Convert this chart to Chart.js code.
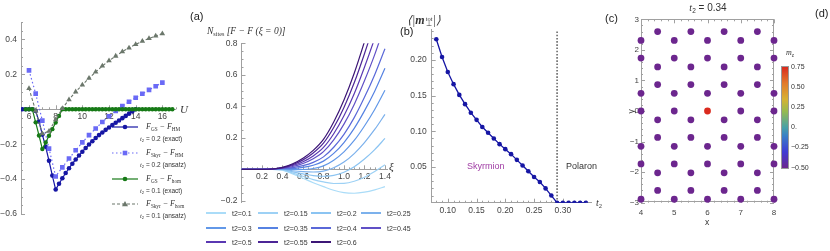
<!DOCTYPE html>
<html>
<head>
<meta charset="utf-8">
<title>Skyrmion / polaron panels</title>
<script src="https://cdn.jsdelivr.net/npm/chart.js@4.4.1/dist/chart.umd.min.js"></script>
<style>
  body { margin: 0; background: #fff; }
  #fig { position: relative; width: 830px; height: 251px; overflow: hidden; font-family: "Liberation Sans", Arial, sans-serif; color: #333; }
  #fig canvas { position: absolute; top: 0; }
  .t { position: absolute; white-space: nowrap; line-height: 1; }
  .m { font-family: "Liberation Serif", "Times New Roman", serif; font-style: italic; }
  .t sub { font-size: 0.65em; position: relative; top: 0.3em; vertical-align: baseline; line-height: 0; font-style: normal; }
  .lab { font-size: 11px; color: #222; }
</style>
</head>
<body>
<div id="fig">
  <canvas id="c1" width="200" height="251" style="left:0"></canvas>
  <canvas id="c2" width="200" height="251" style="left:200px"></canvas>
  <canvas id="c3" width="210" height="251" style="left:400px"></canvas>
  <canvas id="c4" width="220" height="251" style="left:610px"></canvas>

  <div class="t m" style="left:180px;top:104px;font-size:11px">U</div>
  <div id="leg1"></div>

  <div class="t lab" style="left:190px;top:11px">(a)</div>
  <div class="t m" style="left:207px;top:27px;font-size:9.5px">N<sub>sites</sub> [F − F (ξ = 0)]</div>
  <div class="t m" style="left:389px;top:161px;font-size:11px">ξ</div>
  <div id="leg2"></div>

  <div class="t lab" style="left:400px;top:26px">(b)</div>
  <div class="t m" style="left:407px;top:14px;font-size:12px">⟨|<b>m</b><span style="display:inline-block;vertical-align:middle;line-height:0.85;font-size:6.5px;font-style:normal;margin-left:1px"><span style="display:block">tot</span><span style="display:block">⊥</span></span>|⟩</div>
  <div class="t" style="left:467px;top:162px;font-size:9px;color:#a03ca4">Skyrmion</div>
  <div class="t" style="left:566px;top:162px;font-size:9px;color:#333">Polaron</div>
  <div class="t m" style="left:596px;top:198px;font-size:10px">t<sub>2</sub></div>

  <div class="t lab" style="left:605px;top:13px">(c)</div>
  <div class="t" style="left:668px;width:80px;text-align:center;top:3px;font-size:10px"><span class="m">t</span><sub>2</sub> = 0.34</div>
  <div class="t lab" style="left:815px;top:8px">(d)</div>
  <div class="t" style="left:705px;top:218px;font-size:8.5px">x</div>
  <div class="t" style="left:629px;top:107px;font-size:8.5px;transform:rotate(-90deg)">y</div>
  <div class="t m" style="left:786px;top:49px;font-size:8px">m<sub>z</sub></div>
  <div id="cbar" style="position:absolute;left:781px;top:66px;width:6px;height:101px;border:0.5px solid #999"></div>
  <div id="cbticks"></div>
</div>

<script>
// ---------- panel 1: free energy differences vs U ----------
const uFine = [5.5, 5.75, 6, 6.25, 6.5, 6.75, 7, 7.25, 7.5, 7.75, 8, 8.25, 8.5, 8.75, 9, 9.25, 9.5, 9.75, 10, 10.25, 10.5, 10.75, 11, 11.25, 11.5, 11.75, 12, 12.25, 12.5, 12.75, 13, 13.25, 13.5, 13.75, 14, 14.25, 14.5, 14.75, 15, 15.25, 15.5, 15.75, 16, 16.25, 16.5, 16.75];
const gsMinusHM = [0, 0, 0, 0, -0.01, -0.07, -0.145, -0.215, -0.295, -0.38, -0.46, -0.427, -0.395, -0.365, -0.338, -0.312, -0.288, -0.265, -0.243, -0.222, -0.202, -0.183, -0.165, -0.148, -0.133, -0.118, -0.104, -0.09, -0.077, -0.064, -0.051, -0.038, -0.025, -0.012, 0, null, null, null, null, null, null, null, null, null, null, null];
const gsMinusHom = [null, 0, 0, 0, -0.075, -0.15, -0.228, -0.19, -0.152, -0.114, -0.076, -0.038, 0, 0, 0, 0, 0, 0, 0, 0, 0, 0, 0, 0, 0, 0, 0, 0, 0, 0, 0, 0, 0, 0, 0, 0, 0, 0, 0, 0, 0, 0, 0, 0, 0, 0];
const uCoarse = [6, 6.5, 7, 7.5, 8, 8.5, 9, 9.5, 10, 10.5, 11, 11.5, 12, 12.5, 13, 13.5, 14, 14.5, 15, 15.5, 16];
const skyrMinusHM = [0.223, 0.09, -0.065, -0.225, -0.385, -0.333, -0.282, -0.235, -0.19, -0.148, -0.11, -0.073, -0.04, -0.01, 0.018, 0.043, 0.066, 0.089, 0.111, 0.132, 0.153];
const skyrMinusHom = [0.12, -0.01, -0.14, -0.125, -0.06, 0.005, 0.055, 0.1, 0.14, 0.178, 0.214, 0.248, 0.278, 0.305, 0.33, 0.352, 0.372, 0.39, 0.406, 0.42, 0.433];
const uTicks = [6, 8, 10, 12, 14, 16];
const dfTicks = [0.4, 0.2, -0.2, -0.4, -0.6];

// ---------- panel (a): energy vs xi for several t2 ----------
const xiGrid = [0, 0.1, 0.2, 0.3, 0.4, 0.5, 0.6, 0.7, 0.8, 0.9, 1.0, 1.1, 1.2, 1.3, 1.4];
const t2Values = [0.1, 0.15, 0.2, 0.25, 0.3, 0.35, 0.4, 0.45, 0.5, 0.55, 0.6];
const e010 = [0, 0, 0, 0, -0.005, -0.03, -0.057, -0.085, -0.11, -0.133, -0.148, -0.152, -0.145, -0.13, -0.11];
const e015 = [0, 0, 0, 0, -0.003, -0.024, -0.044, -0.065, -0.08, -0.09, -0.089, -0.076, -0.05, -0.014, 0.029];
const e020 = [0, 0, 0, 0, -0.001, -0.016, -0.029, -0.04, -0.044, -0.038, -0.019, 0.016, 0.065, 0.125, 0.196];
const e025 = [0, 0, 0, 0, 0.001, -0.009, -0.015, -0.017, -0.011, 0.01, 0.046, 0.1, 0.17, 0.253, 0.349];
const e030 = [0, 0, 0, 0.001, 0.003, -0.001, -0.001, 0.005, 0.022, 0.058, 0.111, 0.183, 0.275, 0.38, 0.502];
const e035 = [0, 0, 0, 0.001, 0.004, 0.005, 0.012, 0.026, 0.052, 0.101, 0.17, 0.26, 0.371, 0.496, 0.641];
const e040 = [0, 0, 0, 0.001, 0.006, 0.011, 0.023, 0.044, 0.079, 0.14, 0.222, 0.328, 0.457, 0.601, 0.766];
const e045 = [0, 0, 0, 0.001, 0.008, 0.018, 0.037, 0.067, 0.112, 0.187, 0.287, 0.412, 0.562, 0.728, 0.919];
const e050 = [0, 0, 0, 0.002, 0.009, 0.024, 0.048, 0.085, 0.139, 0.226, 0.34, 0.48, 0.648, 0.833, 1.044];
const e055 = [0, 0, 0, 0.002, 0.011, 0.03, 0.06, 0.104, 0.166, 0.265, 0.393, 0.549, 0.734, 0.937, 1.169];
const e060 = [0, 0, 0, 0.002, 0.012, 0.035, 0.07, 0.12, 0.19, 0.3, 0.44, 0.61, 0.81, 1.03, 1.28];
const xiTicks = [0.2, 0.4, 0.6, 0.8, 1.0, 1.2, 1.4];
const eTicks = [0.8, 0.6, 0.4, 0.2, -0.2];

// ---------- panel (b): transverse magnetisation vs t2 ----------
const t2Grid = [0.08, 0.09, 0.10, 0.11, 0.12, 0.13, 0.14, 0.15, 0.16, 0.17, 0.18, 0.19, 0.20, 0.21, 0.22, 0.23, 0.24, 0.25, 0.26, 0.27, 0.28, 0.29, 0.30, 0.31, 0.32, 0.33, 0.34];
const mPerp = [0.229, 0.204, 0.183, 0.166, 0.151, 0.138, 0.126, 0.116, 0.106, 0.098, 0.09, 0.082, 0.075, 0.068, 0.06, 0.052, 0.044, 0.036, 0.029, 0.02, 0.01, 0, 0, 0, 0, 0, 0];
const t2Critical = 0.29;
const t2Ticks = [0.10, 0.15, 0.20, 0.25, 0.30];
const mTicks = [0.05, 0.10, 0.15, 0.20];

// ---------- panel (d): lattice sites coloured by m_z ----------
const siteXInt = [4, 5, 6, 7, 8];
const siteXHalf = [4.5, 5.5, 6.5, 7.5];
const rowYInt = [2.309, 1.732, 0.577, 0, -1.155, -1.732, -2.887];
const rowYHalf = [2.598, 1.443, 0.866, -0.289, -0.866, -2.021, -2.598];
const mzInt = [
  [-0.5, -0.5, -0.5, -0.5, -0.5],
  [-0.5, -0.5, -0.5, -0.5, -0.5],
  [-0.5, -0.5, -0.5, -0.5, -0.5],
  [-0.5, -0.5, 0.75, -0.5, -0.5],
  [-0.5, -0.5, -0.5, -0.5, -0.5],
  [-0.5, -0.5, -0.5, -0.5, -0.5],
  [-0.5, -0.5, -0.5, -0.5, -0.5]
];
const mzHalf = [
  [-0.5, -0.5, -0.5, -0.5],
  [-0.5, -0.5, -0.5, -0.5],
  [-0.5, -0.5, -0.5, -0.5],
  [-0.5, -0.5, -0.5, -0.5],
  [-0.5, -0.5, -0.5, -0.5],
  [-0.5, -0.5, -0.5, -0.5],
  [-0.5, -0.5, -0.5, -0.5]
];
const latXTicks = [4, 5, 6, 7, 8];
const latYTicks = [3, 2, 1, 0, -1, -2, -3];
const cbTicks = [0.75, 0.5, 0.25, 0, -0.25, -0.5];
const cbLabels = ['0.75', '0.50', '0.25', '0.', '\u22120.25', '\u22120.50'];

// ---------- styles ----------
const DARK = '#1616a4', LIGHT = '#6a6af6', GREEN = '#167a16', GRAY = '#6b776b';
const AXIS = '#a0a0a0';
const t2Colors = ['#aadcf8', '#9dd1f5', '#8bc4f2', '#7cb1ec', '#6298e8', '#5682e2', '#5a68d8', '#6050c6', '#5a38b2', '#4c2596', '#3c1676'];
const mzStops = [[-0.5, [108, 38, 142]], [-0.3, [64, 60, 212]], [-0.1, [58, 128, 198]], [0, [72, 160, 168]], [0.2, [150, 186, 80]], [0.35, [214, 178, 52]], [0.55, [226, 122, 42]], [0.75, [218, 42, 30]]];

function mzColor(v) {
  for (let i = 1; i < mzStops.length; i++) {
    if (v <= mzStops[i][0] || i == mzStops.length - 1) {
      const [a, ca] = mzStops[i - 1], [b, cb] = mzStops[i];
      const f = Math.max(0, Math.min(1, (v - a) / (b - a)));
      return 'rgb(' + ca.map((c, k) => Math.round(c + f * (cb[k] - c))).join(',') + ')';
    }
  }
}

Chart.defaults.font.family = '"Liberation Sans", Arial, sans-serif';
Chart.defaults.font.size = 8.5;
Chart.defaults.color = '#444';
Chart.defaults.animation = false;
Chart.defaults.responsive = false;
Chart.defaults.devicePixelRatio = 1;
Chart.defaults.plugins.legend.display = false;
Chart.defaults.plugins.tooltip.enabled = false;

// Mathematica-like inward tick marks (major + minor)
const mmaTicks = {
  id: 'mmaTicks',
  beforeDatasetsDraw(chart, args, o) {
    const ctx = chart.ctx, a = chart.chartArea;
    ctx.save();
    ctx.strokeStyle = AXIS;
    ctx.lineWidth = 1;
    if (o.frame) ctx.strokeRect(Math.round(a.left) + 0.5, Math.round(a.top) + 0.5, Math.round(a.right - a.left) - 1, Math.round(a.bottom - a.top) - 1);
    (o.marks || []).forEach(m => {
      const s = chart.scales[m.axis];
      const other = chart.scales[m.axis === 'x' ? 'y' : 'x'];
      const n = Math.round((m.to - m.from) / m.minor);
      for (let i = 0; i <= n; i++) {
        const v = m.from + i * m.minor;
        const major = Math.abs(v / m.major - Math.round(v / m.major)) < 1e-6;
        const len = major ? 4 : 2;
        const p = Math.round(s.getPixelForValue(v)) + 0.5;
        m.at.forEach(([where, dir]) => {
          let base;
          if (typeof where === 'number') base = other.getPixelForValue(where);
          else if (m.axis === 'x') base = where === 'start' ? a.bottom : a.top;
          else base = where === 'start' ? a.left : a.right;
          ctx.beginPath();
          if (m.axis === 'x') { ctx.moveTo(p, base); ctx.lineTo(p, base + dir * len); }
          else { ctx.moveTo(base, p); ctx.lineTo(base + dir * len, p); }
          ctx.stroke();
        });
      }
    });
    ctx.restore();
  }
};

function fix(w, h) {
  return s => {
    if (w !== undefined) s.width = w;
    if (h !== undefined) s.height = h;
    s.paddingTop = s.paddingBottom = s.paddingLeft = s.paddingRight = 0;
  };
}
function only(vals) { return s => { s.ticks = vals.map(v => ({ value: v })); }; }
function fmt(d) { return v => Number(v).toFixed(d).replace('-', '\u2212'); }
function scale(extra, tickOpts, showBorder) {
  return Object.assign({
    type: 'linear',
    grid: { drawOnChartArea: false, drawTicks: false },
    border: { display: showBorder !== false, color: AXIS, width: 1 },
    ticks: Object.assign({ autoSkip: false, maxRotation: 0, color: '#444' }, tickOpts)
  }, extra);
}
function pts(xs, ys) { return xs.map((x, i) => ({ x: x, y: ys[i] })); }

// ---------- panel 1 ----------
new Chart(document.getElementById('c1'), {
  type: 'line',
  data: {
    datasets: [
      { data: pts(uFine, gsMinusHM), borderColor: DARK, backgroundColor: DARK, borderWidth: 1.2, pointRadius: 2.3, pointBorderWidth: 0, order: 3 },
      { data: pts(uCoarse, skyrMinusHM), borderColor: LIGHT, backgroundColor: LIGHT, borderWidth: 1.2, borderDash: [1.5, 2.5], pointStyle: 'rect', pointRadius: 3.3, pointBorderWidth: 0, order: 2 },
      { data: pts(uFine, gsMinusHom), borderColor: GREEN, backgroundColor: GREEN, borderWidth: 1.2, pointRadius: 2.2, pointBorderWidth: 0, order: 1 },
      { data: pts(uCoarse, skyrMinusHom), borderColor: GRAY, backgroundColor: GRAY, borderWidth: 1.1, borderDash: [3, 2], pointStyle: 'triangle', pointRadius: 3.2, pointBorderWidth: 0, order: 0 }
    ]
  },
  options: {
    layout: { padding: { left: 0, top: 22, right: 24.3, bottom: 37 } },
    scales: {
      x: scale({ min: 5.4, max: 17, position: { y: 0 }, afterBuildTicks: only(uTicks), afterFit: fix() }, { padding: 2, callback: fmt(0) }),
      y: scale({ min: -0.6, max: 0.5, afterBuildTicks: only(dfTicks), afterFit: fix(21) }, { padding: 4, callback: fmt(1) })
    },
    plugins: {
      mmaTicks: { marks: [
        { axis: 'x', from: 5.5, to: 17, minor: 0.5, major: 2, at: [[0, -1]] },
        { axis: 'y', from: -0.6, to: 0.5, minor: 0.05, major: 0.2, at: [['start', 1]] }
      ] }
    }
  },
  plugins: [mmaTicks]
});

// legend of panel 1
const leg1 = [
  { color: DARK, dash: '', marker: 'circle', y: 127, name: 'F<sub>GS</sub> − F<sub>HM</sub>', note: '0.2 (exact)' },
  { color: LIGHT, dash: '1.5 2.5', marker: 'rect', y: 153, name: 'F<sub>Skyr</sub> − F<sub>HM</sub>', note: '0.2 (ansatz)' },
  { color: GREEN, dash: '', marker: 'circle', y: 179, name: 'F<sub>GS</sub> − F<sub>hom</sub>', note: '0.1 (exact)' },
  { color: GRAY, dash: '3 2', marker: 'triangle', y: 204, name: 'F<sub>Skyr</sub> − F<sub>hom</sub>', note: '0.1 (ansatz)' }
];
let html = '';
leg1.forEach(e => {
  let mk;
  if (e.marker === 'circle') mk = '<circle cx="13" cy="4" r="2.3" fill="' + e.color + '"/>';
  else if (e.marker === 'rect') mk = '<rect x="10.7" y="1.7" width="4.6" height="4.6" fill="' + e.color + '"/>';
  else mk = '<polygon points="13,1 16,6.2 10,6.2" fill="' + e.color + '"/>';
  html += '<svg style="position:absolute;left:112px;top:' + (e.y - 4) + 'px" width="26" height="8"><line x1="0" y1="4" x2="26" y2="4" stroke="' + e.color + '" stroke-width="1.2"' + (e.dash ? ' stroke-dasharray="' + e.dash + '"' : '') + '/>' + mk + '</svg>';
  html += '<div class="t m" style="left:146px;top:' + (e.y - 4) + 'px;font-size:8px;color:#333">' + e.name + '</div>';
  html += '<div class="t" style="left:140px;top:' + (e.y + 8.5) + 'px;font-size:6.5px;color:#333"><span class="m">t</span><sub>2</sub> = ' + e.note + '</div>';
});
document.getElementById('leg1').innerHTML = html;

// ---------- panel (a) ----------
const eCurves = [e010, e015, e020, e025, e030, e035, e040, e045, e050, e055, e060];
new Chart(document.getElementById('c2'), {
  type: 'line',
  data: {
    datasets: eCurves.map((c, i) => ({
      data: pts(xiGrid, c), borderColor: t2Colors[i], borderWidth: 1.2, pointRadius: 0,
      cubicInterpolationMode: 'monotone', order: eCurves.length - i
    }))
  },
  options: {
    layout: { padding: { left: 0, top: 43.3, right: 13, bottom: 48.6 } },
    scales: {
      x: scale({ min: 0, max: 1.42, position: { y: 0 }, afterBuildTicks: only(xiTicks), afterFit: fix() }, { padding: 2, callback: fmt(1) }),
      y: scale({ min: -0.21, max: 0.8, afterBuildTicks: only(eTicks), afterFit: fix(41.5) }, { padding: 4, callback: fmt(1) })
    },
    plugins: {
      mmaTicks: { marks: [
        { axis: 'x', from: 0.05, to: 1.4, minor: 0.05, major: 0.2, at: [[0, -1]] },
        { axis: 'y', from: -0.2, to: 0.8, minor: 0.05, major: 0.2, at: [[0, 1]] }
      ] }
    }
  },
  plugins: [mmaTicks]
});

// legend of panel (a)
const legCols = [206, 258, 311, 361], legRows = [213, 228, 242];
html = '';
t2Values.forEach((t, i) => {
  const x = legCols[i % 4], y = legRows[Math.floor(i / 4)];
  html += '<div style="position:absolute;left:' + x + 'px;top:' + (y - 0.75) + 'px;width:20px;height:1.5px;background:' + t2Colors[i] + '"></div>';
  html += '<div class="t" style="left:' + (x + 26) + 'px;top:' + (y - 3.5) + 'px;font-size:7px;color:#333">t2=' + t + '</div>';
});
document.getElementById('leg2').innerHTML = html;

// ---------- panel (b) ----------
const yMaxB = 0.242;
new Chart(document.getElementById('c3'), {
  type: 'line',
  data: {
    datasets: [
      { data: pts(t2Grid, mPerp), borderColor: DARK, backgroundColor: DARK, borderWidth: 1.3, pointRadius: 2.3, pointBorderWidth: 0, order: 0 },
      { data: [{ x: t2Critical, y: 0 }, { x: t2Critical, y: yMaxB }], borderColor: '#6a6a6a', borderWidth: 1.6, borderDash: [1.6, 1.6], pointRadius: 0, order: 1 }
    ]
  },
  options: {
    layout: { padding: { left: 0, top: 29.9, right: 18.4, bottom: 28.3 } },
    scales: {
      x: scale({ min: 0.072, max: 0.35, position: 'bottom', afterBuildTicks: only(t2Ticks), afterFit: fix(undefined, 20) }, { padding: 3, callback: fmt(2) }),
      y: scale({ min: 0, max: yMaxB, afterBuildTicks: only(mTicks), afterFit: fix(31.7) }, { padding: 5, callback: fmt(2) })
    },
    plugins: {
      mmaTicks: { marks: [
        { axis: 'x', from: 0.08, to: 0.34, minor: 0.01, major: 0.05, at: [[0, -1]] },
        { axis: 'y', from: 0.01, to: 0.24, minor: 0.01, major: 0.05, at: [['start', 1]] }
      ] }
    }
  },
  plugins: [mmaTicks]
});

// ---------- panel (d) ----------
const sites = [];
rowYInt.forEach((y, r) => siteXInt.forEach((x, c) => sites.push({ x: x, y: y, mz: mzInt[r][c] })));
rowYHalf.forEach((y, r) => siteXHalf.forEach((x, c) => sites.push({ x: x, y: y, mz: mzHalf[r][c] })));
new Chart(document.getElementById('c4'), {
  type: 'scatter',
  data: {
    datasets: [{
      data: sites.map(s => ({ x: s.x, y: s.y })),
      backgroundColor: sites.map(s => mzColor(s.mz)),
      pointRadius: 3.4, pointBorderWidth: 0, clip: false
    }]
  },
  options: {
    layout: { padding: { left: 0, top: 19.3, right: 56, bottom: 28.3 } },
    scales: {
      x: scale({ min: 4, max: 8, position: 'bottom', afterBuildTicks: only(latXTicks), afterFit: fix(undefined, 20) }, { padding: 5, font: { size: 8 }, callback: fmt(0) }, false),
      y: scale({ min: -3, max: 3, afterBuildTicks: only(latYTicks), afterFit: fix(31) }, { padding: 2, font: { size: 8 }, callback: fmt(0) }, false)
    },
    plugins: {
      mmaTicks: { frame: true, marks: [
        { axis: 'x', from: 4, to: 8, minor: 0.2, major: 1, at: [['start', -1], ['end', 1]] },
        { axis: 'y', from: -3, to: 3, minor: 0.2, major: 1, at: [['start', 1], ['end', -1]] }
      ] }
    }
  },
  plugins: [mmaTicks]
});

// colour bar for m_z
const grad = mzStops.map(s => 'rgb(' + s[1].join(',') + ') ' + ((s[0] + 0.5) / 1.25 * 100).toFixed(1) + '%').join(',');
document.getElementById('cbar').style.background = 'linear-gradient(to top,' + grad + ')';
html = '';
cbTicks.forEach((v, i) => {
  const y = 66 + (0.75 - v) / 1.25 * 101;
  html += '<div class="t" style="left:791px;top:' + (y - 3.5) + 'px;font-size:7px;color:#333">' + cbLabels[i] + '</div>';
});
document.getElementById('cbticks').innerHTML = html;
</script>
</body>
</html>
